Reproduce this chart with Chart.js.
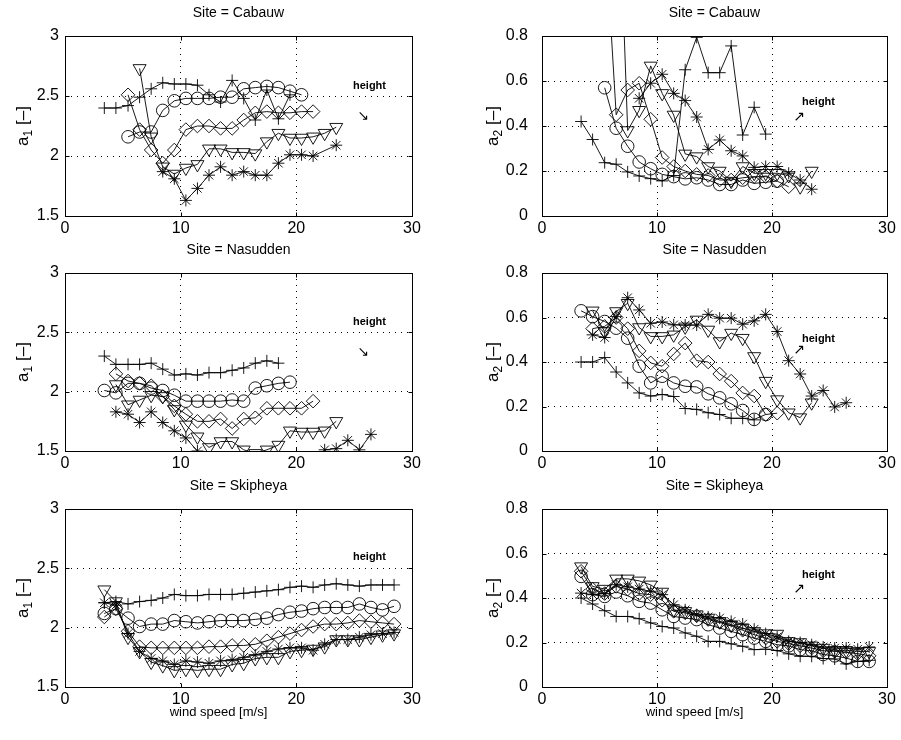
<!DOCTYPE html>
<html>
<head>
<meta charset="utf-8">
<script src="https://cdn.jsdelivr.net/npm/chart.js@4.4.0/dist/chart.umd.min.js"></script>
<style>
  body { margin: 0; background: #fff; }
  #page { position: relative; width: 901px; height: 740px; overflow: hidden; background: #fff; }
  #page canvas { position: absolute; }
</style>
</head>
<body>
<div id="page"></div>
<script>
// wind speed bins [m/s], shared by every series (index i -> windBins[i])
const windBins = [3.4, 4.4, 5.45, 6.45, 7.45, 8.45, 9.45, 10.45, 11.45, 12.45, 13.45, 14.45, 15.45,
  16.45, 17.45, 18.45, 19.45, 20.45, 21.45, 22.45, 23.45, 24.45, 25.45, 26.45, 27.45, 28.45];

const speedTicks = [0, 10, 20, 30];
const a1Ticks = [1.5, 2, 2.5, 3];
const a2Ticks = [0, 0.2, 0.4, 0.6, 0.8];
const siteNames = ['Cabauw', 'Nasudden', 'Skipheya'];
const xTitle = 'wind speed [m/s]';
const noteText = 'height';

// Cabauw, a1
const cabauwA1Plus = [2.40, 2.40, 2.42, 2.49, 2.56, 2.61, 2.60, 2.60, 2.59, 2.51, 2.45, 2.63, 2.48, 2.30, 2.55, 2.31, 2.51];
const cabauwA1Circle = [null, null, 2.16, 2.20, 2.20, 2.38, 2.46, 2.48, 2.48, 2.48, 2.49, 2.49, 2.56, 2.57, 2.58, 2.57, 2.54, 2.51];
const cabauwA1Diamond = [null, null, 2.51, 2.22, 2.05, 1.94, 2.05, 2.22, 2.25, 2.25, 2.23, 2.23, 2.30, 2.36, 2.37, 2.36, 2.36, 2.37, 2.37];
const cabauwA1Triangle = [null, null, null, 2.73, 2.16, 1.91, 1.85, 1.90, 1.93, 2.06, 2.06, 2.03, 2.03, 2.02, 2.12, 2.19, 2.15, 2.15, 2.16, 2.19, 2.24];
const cabauwA1Star = [null, null, null, null, null, 1.87, 1.81, 1.63, 1.73, 1.84, 1.91, 1.84, 1.87, 1.84, 1.84, 1.94, 2.01, 2.01, 2.00, null, 2.09];

// Cabauw, a2
const cabauwA2Plus = [0.42, 0.34, 0.237, 0.23, 0.196, 0.178, 0.166, 0.156, 0.18, 0.65, 0.794, 0.637, 0.637, 0.756, 0.36, 0.483, 0.364];
const cabauwA2Circle = [null, null, 0.57, 0.39, 0.31, 0.24, 0.21, 0.185, 0.175, 0.165, 0.17, 0.16, 0.14, 0.14, 0.16, 0.145, 0.15, 0.155];
const cabauwA2Diamond = [null, null, 1.3, 0.45, 0.56, 0.59, 0.43, 0.26, 0.22, 0.2, 0.185, 0.18, 0.16, 0.16, 0.17, 0.175, 0.175, 0.155, 0.13];
const cabauwA2Triangle = [null, null, null, 1.8, 0.38, 0.47, 0.667, 0.545, 0.449, 0.276, 0.264, 0.22, 0.2, 0.155, 0.22, 0.19, 0.19, 0.19, 0.18, 0.13, 0.2];
const cabauwA2Star = [null, null, null, null, null, 0.523, 0.59, 0.63, 0.545, 0.513, 0.44, 0.296, 0.338, 0.29, 0.267, 0.216, 0.22, 0.22, 0.19, 0.16, 0.119];

// Nasudden, a1
const nasuddenA1Plus = [2.30, 2.23, 2.23, 2.23, 2.24, 2.19, 2.14, 2.15, 2.14, 2.16, 2.16, 2.18, 2.20, 2.24, 2.26, 2.24];
const nasuddenA1Circle = [2.01, 1.99, 2.07, 2.07, 2.03, 2.01, 1.97, 1.92, 1.92, 1.92, 1.92, 1.93, 1.92, 2.03, 2.05, 2.07, 2.08];
const nasuddenA1Diamond = [null, 2.15, 2.09, 2.07, 2.05, 1.96, 1.88, 1.81, 1.75, 1.75, 1.77, 1.69, 1.77, 1.78, 1.86, 1.86, 1.86, 1.86, 1.92];
const nasuddenA1Triangle = [null, 2.06, 1.89, 1.93, 1.97, 1.96, 1.85, 1.72, 1.62, 1.53, 1.58, 1.58, 1.51, 1.48, 1.51, 1.55, 1.67, 1.66, 1.66, 1.67, 1.75];
const nasuddenA1Star = [null, 1.83, 1.81, 1.74, 1.83, 1.74, 1.67, 1.61, 1.50, 1.44, 1.40, 1.38, 1.36, 1.35, 1.37, 1.38, 1.40, 1.42, 1.40, 1.51, 1.52, 1.59, 1.51, 1.64];

// Nasudden, a2
const nasuddenA2Plus = [0.40, 0.40, 0.42, 0.355, 0.306, 0.261, 0.247, 0.254, 0.245, 0.191, 0.187, 0.172, 0.164, 0.147, 0.147, 0.14];
const nasuddenA2Circle = [0.63, 0.604, 0.582, 0.552, 0.507, 0.381, 0.306, 0.336, 0.306, 0.291, 0.288, 0.257, 0.239, 0.212, 0.182, 0.142, 0.164];
const nasuddenA2Diamond = [null, 0.55, 0.56, 0.60, 0.55, 0.45, 0.396, 0.381, 0.436, 0.485, 0.406, 0.40, 0.346, 0.314, 0.261, 0.247, 0.164, 0.17];
const nasuddenA2Triangle = [null, 0.63, 0.537, 0.627, 0.664, 0.555, 0.515, 0.515, 0.522, 0.558, 0.589, 0.544, 0.492, 0.53, 0.507, 0.425, 0.314, 0.231, 0.172, 0.15, 0.217];
const nasuddenA2Star = [null, 0.522, 0.51, 0.604, 0.689, 0.634, 0.574, 0.58, 0.567, 0.566, 0.566, 0.614, 0.597, 0.597, 0.57, 0.585, 0.614, 0.537, 0.406, 0.346, 0.247, 0.272, 0.198, 0.217];

// Skipheya, a1
const skipheyaA1Plus = [2.21, 2.22, 2.20, 2.22, 2.23, 2.25, 2.28, 2.27, 2.27, 2.28, 2.28, 2.28, 2.29, 2.30, 2.31, 2.32, 2.34, 2.35, 2.34, 2.36, 2.37, 2.36, 2.35, 2.36, 2.36, 2.36];
const skipheyaA1Circle = [2.12, 2.16, 2.08, 2.01, 2.03, 2.03, 2.06, 2.05, 2.04, 2.05, 2.06, 2.06, 2.06, 2.07, 2.08, 2.11, 2.13, 2.14, 2.16, 2.17, 2.17, 2.17, 2.20, 2.17, 2.15, 2.18];
const skipheyaA1Diamond = [2.09, 2.16, 1.97, 1.84, 1.83, 1.83, 1.83, 1.83, 1.83, 1.84, 1.84, 1.85, 1.85, 1.86, 1.89, 1.92, 1.95, 1.98, 2.01, 2.03, 2.03, 2.04, 2.06, 2.05, 2.04, 2.03];
const skipheyaA1Triangle = [2.32, 2.22, 1.92, 1.80, 1.71, 1.68, 1.64, 1.65, 1.64, 1.65, 1.65, 1.69, 1.70, 1.74, 1.75, 1.75, 1.80, 1.81, 1.82, 1.84, 1.90, 1.90, 1.90, 1.92, 1.94, 1.95];
const skipheyaA1Star = [2.21, 2.19, 1.95, 1.80, 1.74, 1.72, 1.69, 1.72, 1.71, 1.70, 1.72, 1.73, 1.75, 1.77, 1.80, 1.82, 1.83, 1.83, 1.81, 1.86, 1.90, 1.90, 1.92, 1.94, 1.95, 1.96];

// Skipheya, a2
const skipheyaA2Plus = [0.40, 0.373, 0.343, 0.317, 0.317, 0.307, 0.288, 0.272, 0.265, 0.243, 0.228, 0.205, 0.205, 0.194, 0.183, 0.168, 0.17, 0.164, 0.149, 0.138, 0.138, 0.128, 0.126, 0.104, 0.115, 0.12];
const skipheyaA2Circle = [0.497, 0.415, 0.407, 0.427, 0.41, 0.385, 0.377, 0.347, 0.317, 0.31, 0.303, 0.28, 0.265, 0.25, 0.235, 0.22, 0.205, 0.19, 0.185, 0.168, 0.163, 0.146, 0.14, 0.13, 0.115, 0.115];
const skipheyaA2Diamond = [0.52, 0.44, 0.42, 0.452, 0.44, 0.42, 0.415, 0.39, 0.34, 0.333, 0.32, 0.303, 0.29, 0.275, 0.255, 0.235, 0.22, 0.205, 0.195, 0.185, 0.175, 0.163, 0.16, 0.156, 0.15, 0.14];
const skipheyaA2Triangle = [0.541, 0.452, 0.44, 0.486, 0.486, 0.477, 0.459, 0.427, 0.347, 0.34, 0.325, 0.31, 0.295, 0.28, 0.265, 0.25, 0.24, 0.238, 0.205, 0.2, 0.185, 0.175, 0.165, 0.165, 0.16, 0.16];
const skipheyaA2Star = [0.422, 0.415, 0.42, 0.46, 0.45, 0.44, 0.43, 0.415, 0.37, 0.347, 0.325, 0.315, 0.31, 0.295, 0.283, 0.26, 0.24, 0.225, 0.205, 0.2, 0.19, 0.18, 0.175, 0.175, 0.17, 0.18];

const FONT = '"Liberation Sans", Arial, Helvetica, sans-serif';

// one marker per height, same order as the series above
const markers = [
  { pointStyle: 'cross', pointRadius: 6, pointRotation: 0 },
  { pointStyle: 'circle', pointRadius: 6.3, pointRotation: 0 },
  { pointStyle: 'rectRot', pointRadius: 6.8, pointRotation: 0 },
  { pointStyle: 'triangle', pointRadius: 7.5, pointRotation: 180 },
  { pointStyle: 'star', pointRadius: 6, pointRotation: 0 }
];

function toPoints(ys) {
  const pts = [];
  ys.forEach((y, i) => { if (y !== null) pts.push({ x: windBins[i], y: y }); });
  return pts;
}

const framePlugin = {
  id: 'frame',
  afterDraw(chart, args, opts) {
    const ctx = chart.ctx;
    const a = chart.chartArea;
    const xs = chart.scales.x, ys = chart.scales.y;
    ctx.save();
    ctx.strokeStyle = '#000';
    ctx.lineWidth = 1;
    const L = Math.round(a.left) + 0.5, R = Math.round(a.right) + 0.5;
    const T = Math.round(a.top) + 0.5, B = Math.round(a.bottom) + 0.5;
    ctx.strokeRect(L, T, R - L, B - T);
    // inward tick marks on all four sides
    ctx.beginPath();
    speedTicks.forEach(v => {
      const px = Math.round(xs.getPixelForValue(v)) + 0.5;
      ctx.moveTo(px, B); ctx.lineTo(px, B - 4);
      ctx.moveTo(px, T); ctx.lineTo(px, T + 4);
    });
    opts.yTicks.forEach(v => {
      const py = Math.round(ys.getPixelForValue(v)) + 0.5;
      ctx.moveTo(L, py); ctx.lineTo(L + 4, py);
      ctx.moveTo(R, py); ctx.lineTo(R - 4, py);
    });
    ctx.stroke();

    ctx.fillStyle = '#000';
    // panel title
    ctx.font = '14px ' + FONT;
    ctx.textAlign = 'center';
    ctx.textBaseline = 'middle';
    ctx.fillText(opts.title, (a.left + a.right) / 2, a.top - 23);
    // x axis title (bottom row only)
    if (opts.xTitle) {
      ctx.font = '13px ' + FONT;
      ctx.fillText(opts.xTitle, (a.left + a.right) / 2 - 20, a.bottom + 25);
    }
    // note and arrow
    ctx.font = 'bold 11px ' + FONT;
    ctx.textAlign = 'left';
    ctx.fillText(noteText, a.left + opts.note[0], a.top + opts.note[1]);
    if (opts.arrow) {
      ctx.font = '14px "DejaVu Sans", sans-serif';
      ctx.textAlign = 'center';
      ctx.fillText(opts.arrow[2], a.left + opts.arrow[0], a.top + opts.arrow[1]);
    }
    // y label: a with subscript index, then [–]
    ctx.translate(22, (a.top + a.bottom) / 2);
    ctx.rotate(-Math.PI / 2);
    ctx.textAlign = 'left';
    ctx.textBaseline = 'alphabetic';
    const big = '17px ' + FONT, small = '12px ' + FONT;
    ctx.font = big;
    const wA = ctx.measureText('a').width;
    const wRest = ctx.measureText(' [–]').width;
    ctx.font = small;
    const wSub = ctx.measureText(opts.sub).width;
    let x0 = -(wA + wSub + wRest) / 2;
    ctx.font = big;
    ctx.fillText('a', x0, 6);
    ctx.font = small;
    ctx.fillText(opts.sub, x0 + wA, 10);
    ctx.font = big;
    ctx.fillText(' [–]', x0 + wA + wSub, 6);
    ctx.restore();
  }
};

function makePanel(cfg) {
  const canvas = document.createElement('canvas');
  canvas.width = cfg.w;
  canvas.height = cfg.h;
  canvas.style.left = cfg.left + 'px';
  canvas.style.top = cfg.top + 'px';
  canvas.style.width = cfg.w + 'px';
  canvas.style.height = cfg.h + 'px';
  document.getElementById('page').appendChild(canvas);

  const datasets = cfg.series.map((ys, k) => Object.assign({
    data: toPoints(ys),
    borderColor: '#000',
    borderWidth: 0.9,
    pointBorderColor: '#000',
    pointBackgroundColor: 'rgba(0,0,0,0)',
    pointBorderWidth: 0.9,
    pointHoverRadius: 6,
    tension: 0,
    fill: false
  }, markers[k]));

  const gridColor = (min, max) => c =>
    (c.tick && (c.tick.value === min || c.tick.value === max)) ? 'rgba(0,0,0,0)' : '#000';
  const yTicks = cfg.yTicks;
  const yMin = yTicks[0], yMax = yTicks[yTicks.length - 1];

  new Chart(canvas, {
    type: 'line',
    data: { datasets: datasets },
    plugins: [framePlugin],
    options: {
      responsive: false,
      animation: false,
      events: [],
      layout: { padding: { top: 36, right: cfg.padRight, left: 0, bottom: 0 } },
      plugins: {
        legend: { display: false },
        tooltip: { enabled: false },
        frame: {
          title: cfg.title, sub: cfg.sub, yTicks: yTicks,
          xTitle: cfg.xTitle, note: cfg.note, arrow: cfg.arrow
        }
      },
      scales: {
        x: {
          type: 'linear', min: 0, max: 30,
          afterBuildTicks: s => { s.ticks = speedTicks.map(v => ({ value: v })); },
          afterFit: s => { s.height = cfg.xH; },
          ticks: { color: '#000', font: { size: 16, family: FONT }, padding: 3, maxRotation: 0, callback: v => String(v) },
          grid: { color: gridColor(0, 30), lineWidth: 1, drawTicks: false },
          border: { display: false, dash: [1, 5] }
        },
        y: {
          type: 'linear', min: yMin, max: yMax,
          afterBuildTicks: s => { s.ticks = yTicks.map(v => ({ value: v })); },
          afterFit: s => { s.width = cfg.yW; },
          ticks: { color: '#000', font: { size: 16, family: FONT }, padding: cfg.tickPad, callback: v => String(v) },
          grid: { color: gridColor(yMin, yMax), lineWidth: 1, drawTicks: false },
          border: { display: false, dash: [1, 5] }
        }
      }
    }
  });
}

const rowTops = [36, 273, 509];
const rowHeights = [180, 178, 178];
const allSeries = [
  [[cabauwA1Plus, cabauwA1Circle, cabauwA1Diamond, cabauwA1Triangle, cabauwA1Star],
   [cabauwA2Plus, cabauwA2Circle, cabauwA2Diamond, cabauwA2Triangle, cabauwA2Star]],
  [[nasuddenA1Plus, nasuddenA1Circle, nasuddenA1Diamond, nasuddenA1Triangle, nasuddenA1Star],
   [nasuddenA2Plus, nasuddenA2Circle, nasuddenA2Diamond, nasuddenA2Triangle, nasuddenA2Star]],
  [[skipheyaA1Plus, skipheyaA1Circle, skipheyaA1Diamond, skipheyaA1Triangle, skipheyaA1Star],
   [skipheyaA2Plus, skipheyaA2Circle, skipheyaA2Diamond, skipheyaA2Triangle, skipheyaA2Star]]
];
const leftNotes = [[288, 50], [288, 49], [288, 48]];
const leftArrows = [[298, 80, '↘'], [298, 79, '↘'], null];
const rightNotes = [[260, 66], [260, 66], [260, 66]];
const rightArrows = [[257, 81, '↗'], [257, 77, '↗'], [257, 80, '↗']];

for (let r = 0; r < 3; r++) {
  const xH = r === 2 ? 45 : 30;
  const top = rowTops[r] - 36;
  const h = 36 + rowHeights[r] + xH;
  const title = 'Site = ' + siteNames[r];
  makePanel({
    left: 0, top: top, w: 430, h: h, yW: 65, padRight: 18, xH: xH, tickPad: 6,
    yTicks: a1Ticks, sub: '1', title: title, xTitle: r === 2 ? xTitle : null,
    note: leftNotes[r], arrow: leftArrows[r], series: allSeries[r][0]
  });
  makePanel({
    left: 470, top: top, w: 431, h: h, yW: 72, padRight: 14, xH: xH, tickPad: 14,
    yTicks: a2Ticks, sub: '2', title: title, xTitle: r === 2 ? xTitle : null,
    note: rightNotes[r], arrow: rightArrows[r], series: allSeries[r][1]
  });
}
</script>
</body>
</html>
